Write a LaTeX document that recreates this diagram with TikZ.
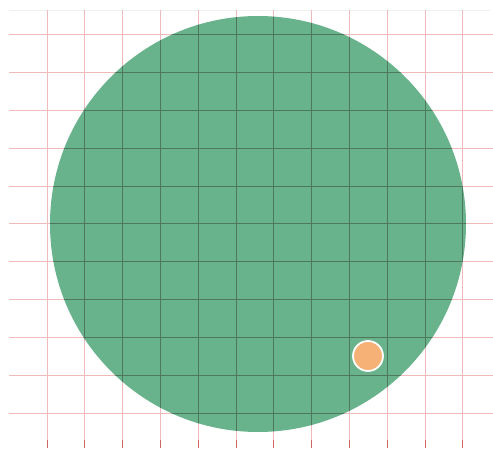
\documentclass[tikz,border=0pt]{standalone}
\usepackage{xcolor}
\definecolor{gridred}{RGB}{238,186,186}
\definecolor{tickred}{RGB}{205,100,100}
\definecolor{diskgreen}{RGB}{104,178,140}
\definecolor{griddark}{RGB}{78,120,92}
\definecolor{dotorange}{RGB}{246,178,118}
\usetikzlibrary{positioning}
\tikzset{
  gridline/.style={gridred, line width=1pt},
  innerline/.style={griddark, line width=1pt},
  tickline/.style={tickred, line width=1pt}
}

\begin{document}
\begin{tikzpicture}[x=1pt, y=-1pt]
  \useasboundingbox (0,0) rectangle (493,449);

  % top rule
  \draw[black!6, line width=0.8pt] (9,10) -- (490,10);

  % red grid
  \foreach \k in {0,...,11} {
    \draw[gridline] ({47+37.8*\k},10) -- ({47+37.8*\k},440);
    \draw[tickline] ({47+37.8*\k},440) -- ({47+37.8*\k},448);
  }
  \foreach \k in {0,...,10}
    \draw[gridline] (9,{35+37.8*\k}) -- (493,{35+37.8*\k});

  % big disk
  \fill[diskgreen] (258,224) circle[radius=208];

  % grid seen through the disk
  \begin{scope}
    \clip (258,224) circle[radius=208];
    \foreach \k in {0,...,11}
      \draw[innerline] ({47+37.8*\k},10) -- ({47+37.8*\k},440);
    \foreach \k in {0,...,10}
      \draw[innerline] (9,{35+37.8*\k}) -- (493,{35+37.8*\k});
  \end{scope}

  % small dot
  \filldraw[fill=dotorange, draw=white, line width=1.8pt] (368,356) circle[radius=15];
\end{tikzpicture}
\end{document}
